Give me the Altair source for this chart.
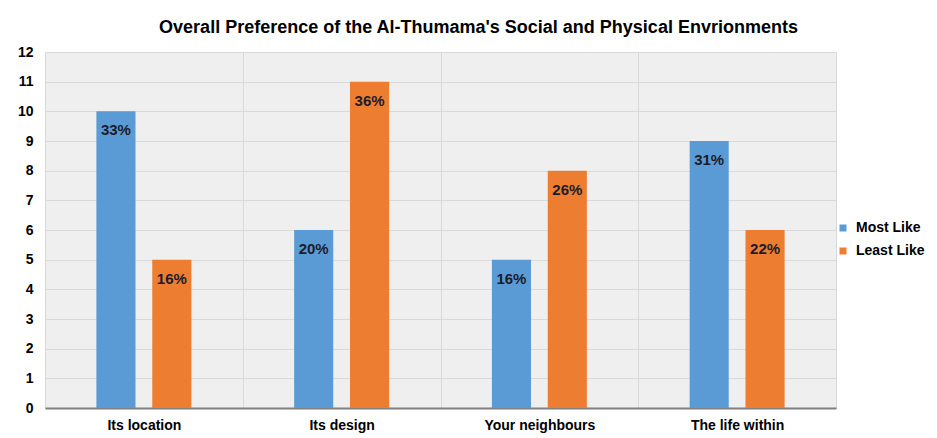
import altair as alt
import pandas as pd

categories = ["Its location", "Its design", "Your neighbours", "The life within"]
most_like = [10, 6, 5, 9]
least_like = [5, 11, 8, 6]
most_pct = ["33%", "20%", "16%", "31%"]
least_pct = ["16%", "36%", "26%", "22%"]
series = ["Most Like", "Least Like"]
colors = ["#5B9BD5", "#ED7D31"]
y_ticks = list(range(13))

rows = []
for c, m, l, mp, lp in zip(categories, most_like, least_like, most_pct, least_pct):
    rows.append({"cat": c, "series": series[0], "value": m, "pct": mp})
    rows.append({"cat": c, "series": series[1], "value": l, "pct": lp})
df = pd.DataFrame(rows)

W, H = 791, 356
FONT = "Liberation Sans, Arial, sans-serif"

x = alt.X("cat:N", sort=categories, title=None,
          scale=alt.Scale(paddingInner=0, paddingOuter=0),
          axis=alt.Axis(labelAngle=0, tickBand="extent", ticks=False, grid=True,
                        gridColor="#d9d9d9", gridWidth=1,
                        domainColor="#7f7f7f", domainWidth=2,
                        labelFont=FONT, labelFontSize=14, labelFontWeight="bold",
                        labelColor="#000000", labelPadding=10))
xo = alt.XOffset("series:N", sort=series,
                 scale=alt.Scale(paddingInner=0.3, paddingOuter=0.92))
y = alt.Y("value:Q", title=None,
          scale=alt.Scale(domain=[0, 12], nice=False),
          axis=alt.Axis(values=y_ticks, ticks=False, domain=False, labelOverlap=False,
                        gridColor="#d9d9d9", gridWidth=1,
                        labelFont=FONT, labelFontSize=14, labelFontWeight="bold",
                        labelColor="#000000", labelPadding=12))
color = alt.Color("series:N", sort=series,
                  scale=alt.Scale(domain=series, range=colors),
                  legend=alt.Legend(title=None, orient="none", legendX=791, legendY=169,
                                    symbolType="square", symbolSize=49, symbolStrokeWidth=0,
                                    labelFont=FONT, labelFontSize=14, labelFontWeight="bold",
                                    labelColor="#000000", rowPadding=9, labelOffset=6))

base = alt.Chart(df)
bars = base.mark_bar().encode(x=x, xOffset=xo, y=y, color=color)
labels = base.mark_text(font=FONT, fontSize=15, fontWeight="bold", color="#1c1c2c",
                        baseline="alphabetic", dy=24).encode(
    x=x, xOffset=xo, y=y, text="pct:N")

chart = alt.layer(bars, labels).properties(
    width=W, height=H,
    autosize=alt.AutoSizeParams(type="none"),
    padding={"left": 37, "top": 44, "right": 93, "bottom": 30},
    title=alt.TitleParams("Overall Preference of the Al-Thumama's Social and Physical Envrionments",
                          font=FONT, fontSize=18, fontWeight="bold", color="#000000",
                          anchor="middle", dx=38, offset=8),
).configure_view(fill="#efefef", stroke=None)

chart.save("out.html", embed_options={"renderer": "svg", "actions": False})
